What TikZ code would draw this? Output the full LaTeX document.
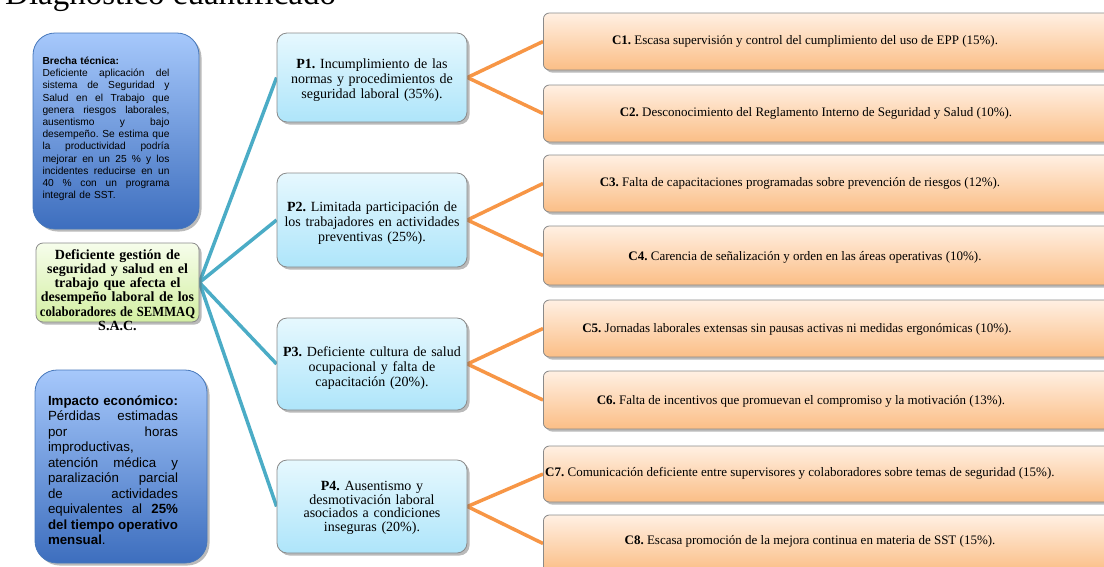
\documentclass[tikz,border=0pt]{standalone}
\usepackage{fontspec}
\usepackage{graphicx}
\setmainfont{Liberation Serif}
\newfontfamily\arialf{Liberation Sans}
\usetikzlibrary{shadows,backgrounds}
\frenchspacing
\definecolor{bluetop}{HTML}{A6C8FB}
\definecolor{bluebot}{HTML}{3D6EBE}
\definecolor{blueedge}{HTML}{4677BA}
\definecolor{greentop}{HTML}{F6FDEB}
\definecolor{greenbot}{HTML}{D3EFA2}
\definecolor{cyantop}{HTML}{E6F8FE}
\definecolor{cyanbot}{HTML}{AEE5FA}
\definecolor{orgtop}{HTML}{FFF0E3}
\definecolor{orgbot}{HTML}{FBBE86}
\definecolor{edgegray}{HTML}{8A8A8A}
\definecolor{tealline}{HTML}{4BACC6}
\definecolor{orgline}{HTML}{F79646}
\newcommand{\jb}[1]{{\spaceskip=0pt\relax\xspaceskip=0pt\relax\makebox[127pt][s]{#1}}}
\newcommand{\ji}[1]{{\spaceskip=0pt\relax\xspaceskip=0pt\relax\makebox[130pt][s]{#1}}}
\tikzset{
  shad/.style={drop shadow={shadow xshift=2.5pt,shadow yshift=-2.5pt,opacity=0.45,fill=black!60}},
  bluebox/.style={shad,draw=blueedge,line width=0.8pt,rounded corners=22pt,top color=bluetop,bottom color=bluebot,inner sep=0pt},
  greenbox/.style={shad,draw=edgegray,line width=0.8pt,rounded corners=7pt,top color=greentop,bottom color=greenbot,inner sep=0pt},
  pbox/.style={shad,draw=edgegray,line width=0.8pt,rounded corners=10pt,top color=cyantop,bottom color=cyanbot,minimum width=190pt,inner sep=0pt,text width=182pt,align=center,font=\fontsize{14}{15}\selectfont},
  ptext/.style={inner sep=0pt,text width=182pt,align=center,font=\fontsize{14}{15}\selectfont},
  cbox/.style={shad,draw=edgegray,line width=0.8pt,rounded corners=6pt,top color=orgtop,bottom color=orgbot,minimum width=580pt,minimum height=57pt,anchor=west,inner sep=0pt},
  ctext/.style={font=\fontsize{13}{15}\selectfont,inner sep=0pt},
  tline/.style={draw=tealline,line width=3.5pt},
  oline/.style={draw=orgline,line width=3.5pt},
}
\begin{document}
\begin{tikzpicture}[x=1pt,y=-1pt]
\useasboundingbox (0,0) rectangle (1104,566);
\clip (0,0) rectangle (1104,566);

\node[anchor=base west,inner sep=0pt,font=\fontsize{33}{35}\selectfont] (title) at (5,4) {Diagnóstico cuantificado};

\node[bluebox,minimum width=166pt,minimum height=196pt] (brecha) at (116,131) {};
\node[inner sep=0pt,text width=127pt,align=left,font=\arialf\fontsize{10.2}{12.2}\selectfont] (brechat) at (106,129)
{\textbf{Brecha técnica:}\\
\jb{Deficiente aplicación del}\\
\jb{sistema de Seguridad y}\\
\jb{Salud en el Trabajo que}\\
\jb{genera riesgos laborales,}\\
\jb{ausentismo y bajo}\\
\jb{desempeño. Se estima que}\\
\jb{la productividad podría}\\
\jb{mejorar en un 25 \% y los}\\
\jb{incidentes reducirse en un}\\
\jb{40 \% con un programa}\\
integral de SST.};

\node[greenbox,minimum width=163pt,minimum height=79pt] (prob) at (117.5,282.5) {};
\node[inner sep=0pt,text width=176pt,align=center,font=\bfseries\fontsize{14}{14.3}\selectfont] (probt) at (117.5,290)
{Deficiente gestión de\\seguridad y salud en el\\trabajo que afecta el\\desempeño laboral de los\\\scalebox{0.9}[1]{colaboradores de SEMMAQ}\\S.A.C.};

\node[bluebox,minimum width=172pt,minimum height=193pt] (impacto) at (121,466.5) {};
\node[inner sep=0pt,text width=130pt,align=left,font=\arialf\fontsize{13.3}{15.5}\selectfont] (impactot) at (113,470)
{\ji{\textbf{Impacto económico:}}\\
\ji{Pérdidas estimadas}\\
\ji{por horas}\\
improductivas,\\
\ji{atención médica y}\\
\ji{paralización parcial}\\
\ji{de actividades}\\
\ji{equivalentes al \textbf{25\%}}\\
\ji{\textbf{del tiempo operativo}}\\
\textbf{mensual}.};

\node[pbox,minimum height=89pt] (P1) at (372,77.5) {};
\node[pbox,minimum height=94pt] (P2) at (372,220) {};
\node[pbox,minimum height=92pt] (P3) at (372,364) {};
\node[pbox,minimum height=93pt] (P4) at (372,506.5) {};
\node[ptext] (P1t) at (372,80) {\textbf{P1.} Incumplimiento de las\\normas y procedimientos de\\seguridad laboral (35\%).};
\node[ptext] (P2t) at (372,223) {\textbf{P2.} Limitada participación de\\los trabajadores en actividades\\preventivas (25\%).};
\node[ptext] (P3t) at (372,368) {\textbf{P3.} Deficiente cultura de salud\\ocupacional y falta de\\capacitación (20\%).};
\node[ptext,font=\fontsize{14}{13.5}\selectfont] (P4t) at (372,508) {\textbf{P4.} Ausentismo y\\desmotivación laboral\\asociados a condiciones\\inseguras (20\%).};

\node[cbox] (C1) at (543,41.5) {};
\node[cbox] (C2) at (543,113.5) {};
\node[cbox] (C3) at (543,183.5) {};
\node[cbox,minimum height=59pt] (C4) at (543,255.5) {};
\node[cbox] (C5) at (543,328.5) {};
\node[cbox,minimum height=58pt] (C6) at (543,400) {};
\node[cbox,minimum height=56pt] (C7) at (543,474) {};
\node[cbox] (C8) at (543,543.5) {};

\node[ctext] (C1t) at (805,41.5) {\textbf{C1.} Escasa supervisión y control del cumplimiento del uso de EPP (15\%).};
\node[ctext] (C2t) at (816,113.5) {\textbf{C2.} Desconocimiento del Reglamento Interno de Seguridad y Salud (10\%).};
\node[ctext] (C3t) at (800,183.5) {\textbf{C3.} Falta de capacitaciones programadas sobre prevención de riesgos (12\%).};
\node[ctext] (C4t) at (805,257) {\textbf{C4.} Carencia de señalización y orden en las áreas operativas (10\%).};
\node[ctext] (C5t) at (797,329) {\textbf{C5.} Jornadas laborales extensas sin pausas activas ni medidas ergonómicas (10\%).};
\node[ctext] (C6t) at (801,401) {\textbf{C6.} Falta de incentivos que promuevan el compromiso y la motivación (13\%).};
\node[ctext,anchor=west] (C7t) at (545,473) {\textbf{C7.} Comunicación deficiente entre supervisores y colaboradores sobre temas de seguridad (15\%).};
\node[ctext] (C8t) at (810,541) {\textbf{C8.} Escasa promoción de la mejora continua en materia de SST (15\%).};

\begin{pgfonlayer}{background}
\foreach \p in {P1,P2,P3,P4} { \draw[tline] (prob.east) -- (\p.west); }
\draw[oline] (P1.east) -- (C1.west);
\draw[oline] (P1.east) -- (C2.west);
\draw[oline] (P2.east) -- (C3.west);
\draw[oline] (P2.east) -- (C4.west);
\draw[oline] (P3.east) -- (C5.west);
\draw[oline] (P3.east) -- (C6.west);
\draw[oline] (P4.east) -- (C7.west);
\draw[oline] (P4.east) -- (C8.west);
\end{pgfonlayer}
\end{tikzpicture}
\end{document}
